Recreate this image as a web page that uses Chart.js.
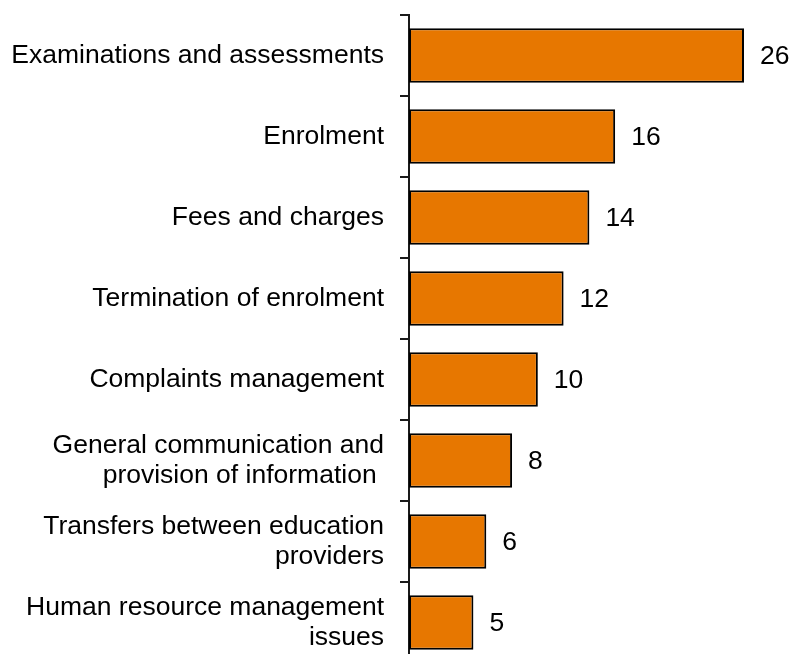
<!DOCTYPE html>
<html><head><meta charset="utf-8">
<script src="https://cdn.jsdelivr.net/npm/chart.js@4/dist/chart.umd.min.js"></script>
<style>html,body{margin:0;padding:0;background:#fff;overflow:hidden}#wrap{position:relative;width:791px;height:663px}</style>
</head><body><div id="wrap"><canvas id="c"></canvas></div>
<script>
const categories = [
  "Examinations and assessments",
  "Enrolment",
  "Fees and charges",
  "Termination of enrolment",
  "Complaints management",
  ["General communication and", "provision of information "],
  ["Transfers between education", "providers"],
  ["Human resource management", "issues"]
];
const values = [26, 16, 14, 12, 10, 8, 6, 5];

const FONT = '"Liberation Sans", Arial, sans-serif';
const FSIZE = 26.5;

const valueLabels = {
  id: 'valueLabels',
  afterDatasetsDraw(chart) {
    const ctx = chart.ctx;
    const meta = chart.getDatasetMeta(0);
    ctx.save();
    ctx.font = FSIZE + 'px ' + FONT;
    ctx.fillStyle = '#000';
    ctx.textAlign = 'left';
    ctx.textBaseline = 'middle';
    meta.data.forEach((bar, i) => {
      ctx.fillText(String(values[i]), bar.x + 16, bar.y + 1);
    });
    ctx.restore();
  }
};

new Chart(document.getElementById('c'), {
  type: 'bar',
  data: {
    labels: categories,
    datasets: [{
      data: values,
      backgroundColor: '#E77700',
      borderColor: '#000',
      borderWidth: 2,
      borderSkipped: false,
      categoryPercentage: 1,
      barPercentage: 0.67
    }]
  },
  options: {
    indexAxis: 'y',
    responsive: true,
    maintainAspectRatio: false,
    animation: false,
    layout: { padding: { top: 15, right: 47, bottom: 0, left: 10 } },
    plugins: { legend: { display: false }, tooltip: { enabled: false } },
    scales: {
      x: { display: false, min: 0, max: 26 },
      y: {
        offset: true,
        afterFit(scale) { scale.paddingTop = 0; scale.paddingBottom = 0; scale.width = 399; },
        border: { display: true, color: '#1a1a1a', width: 2 },
        grid: { display: true, drawOnChartArea: false, offset: true, tickLength: 9, color: '#1a1a1a', lineWidth: 2 },
        ticks: {
          color: '#000',
          padding: 16,
          font: { family: FONT, size: FSIZE, lineHeight: 1.15 },
          autoSkip: false
        }
      }
    }
  },
  plugins: [valueLabels]
});
</script></body></html>
